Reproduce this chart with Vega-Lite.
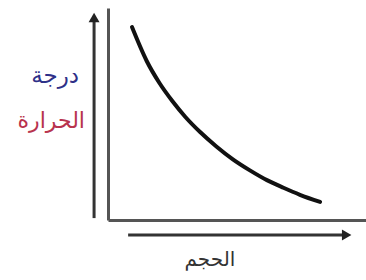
{
  "$schema": "https://vega.github.io/schema/vega-lite/v6.json",
  "autosize": {"type": "none"},
  "width": 258,
  "height": 212,
  "padding": {"left": 108, "top": 8, "right": 0, "bottom": 60},
  "background": "white",
  "config": {"view": {"stroke": null}},
  "datasets": {
    "curve": [
      {"V": 0.93, "T": 9.10},
      {"V": 1.5, "T": 7.50},
      {"V": 2.0, "T": 6.45},
      {"V": 2.5, "T": 5.60},
      {"V": 3.0, "T": 4.86},
      {"V": 3.57, "T": 4.15},
      {"V": 4.2, "T": 3.47},
      {"V": 4.84, "T": 2.86},
      {"V": 5.5, "T": 2.34},
      {"V": 6.16, "T": 1.88},
      {"V": 6.8, "T": 1.52},
      {"V": 7.44, "T": 1.19},
      {"V": 8.22, "T": 0.85}
    ],
    "yarrow": [{"x": -0.54, "y1": 0.09, "y2": 9.4, "tip": 9.55}],
    "xarrow": [{"y": -0.71, "x1": 0.78, "x2": 9.1, "tip": 9.25}],
    "labels": [
      {"x": -2.05, "y": 6.8, "t": "درجة", "c": "#2e3088", "w": "bold", "s": 23},
      {"x": -2.2, "y": 4.65, "t": "الحرارة", "c": "#b8334e", "w": "bold", "s": 22},
      {"x": 3.95, "y": -1.9, "t": "الحجم", "c": "#333333", "w": "normal", "s": 20}
    ]
  },
  "layer": [
    {
      "data": {"name": "curve"},
      "mark": {"type": "line", "interpolate": "monotone", "color": "#111111", "strokeWidth": 4, "strokeCap": "round"},
      "encoding": {
        "x": {"field": "V", "type": "quantitative", "scale": {"domain": [0, 10], "nice": false, "zero": false},
          "axis": {"labels": false, "ticks": false, "grid": false, "title": null, "domainColor": "#555555", "domainWidth": 3}},
        "y": {"field": "T", "type": "quantitative", "scale": {"domain": [0, 10], "nice": false, "zero": false},
          "axis": {"labels": false, "ticks": false, "grid": false, "title": null, "domainColor": "#555555", "domainWidth": 3}}
      }
    },
    {
      "data": {"name": "yarrow"},
      "mark": {"type": "rule", "color": "#333333", "strokeWidth": 3},
      "encoding": {
        "x": {"field": "x", "type": "quantitative"},
        "y": {"field": "y1", "type": "quantitative"},
        "y2": {"field": "y2"}
      }
    },
    {
      "data": {"name": "yarrow"},
      "mark": {"type": "point", "shape": "triangle-up", "filled": true, "color": "#222222", "size": 120, "opacity": 1},
      "encoding": {
        "x": {"field": "x", "type": "quantitative"},
        "y": {"field": "tip", "type": "quantitative"}
      }
    },
    {
      "data": {"name": "xarrow"},
      "mark": {"type": "rule", "color": "#333333", "strokeWidth": 3},
      "encoding": {
        "y": {"field": "y", "type": "quantitative"},
        "x": {"field": "x1", "type": "quantitative"},
        "x2": {"field": "x2"}
      }
    },
    {
      "data": {"name": "xarrow"},
      "mark": {"type": "point", "shape": "triangle-right", "filled": true, "color": "#222222", "size": 120, "opacity": 1},
      "encoding": {
        "y": {"field": "y", "type": "quantitative"},
        "x": {"field": "tip", "type": "quantitative"}
      }
    },
    {
      "data": {"name": "labels"},
      "mark": {"type": "text", "font": "DejaVu Sans", "align": "center", "baseline": "middle"},
      "encoding": {
        "x": {"field": "x", "type": "quantitative"},
        "y": {"field": "y", "type": "quantitative"},
        "text": {"field": "t"},
        "color": {"field": "c", "type": "nominal", "scale": null},
        "fontWeight": {"field": "w", "type": "nominal", "scale": null},
        "size": {"field": "s", "type": "quantitative", "scale": null}
      }
    }
  ]
}
